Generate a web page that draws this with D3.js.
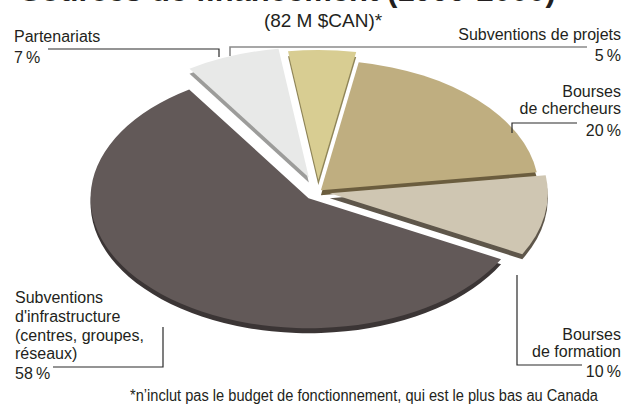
<!doctype html><html><head><meta charset="utf-8"></head><body style="margin:0;background:#fff"><script src='https://d3js.org/d3.v7.min.js'></script>

<style>
	svg text {
		fill: #231f20;
		font-family: "Liberation Sans", Arial, sans-serif;
		font-size: 16px;
	}
	svg .title {
		font-weight: bold;
		font-size: 31px;
	}
	svg .subtitle {
		font-size: 19px;
	}
	svg .lead {
		fill: none;
		stroke: #2a2a2a;
		stroke-width: 1.2;
	}
</style>

<script>
  // slices, clockwise from the top
  var categories = ["Bourses de chercheurs", "Bourses de formation", "Subventions d'infrastructure", "Partenariats", "Subventions de projets"];
  var shares = [20, 10, 58, 7, 5];
  var pctLabels = ["20\u2009%", "10\u2009%", "58\u2009%", "7\u2009%", "5\u2009%"];

  var topColors = ["#bfae80", "#cfc6b2", "#625958", "#e8e9e8", "#d8cd92"];
  var rimColors = ["#6b5d3e", "#5e564a", "#3b3535", "#9c9c9a", "#8f8558"];
  var explode = [4, 12, 14, 26, 20];

  var width = 631, height = 404;
  var cx = 318, cy = 192, rx = 218, ry = 130, depth = 5;
  var k = ry / rx;

  var svg = d3.select("body").append("svg")
    .attr("width", width)
    .attr("height", height)
    .style("display", "block");

  // title (cut at the top edge, as in the original)
  svg.append("text").attr("class", "title")
    .attr("x", 20).attr("y", 1)
    .text("Sources de financement (1999-2000)");

  svg.append("text").attr("class", "subtitle")
    .attr("x", 323).attr("y", 27)
    .attr("text-anchor", "middle")
    .text("(82 M $CAN)*");

  var data = categories.map(function(c, i) {
    return {name: c, v: shares[i], i: i};
  });

  var a0 = 10 * Math.PI / 180;
  var pie = d3.pie().sort(null).value(function(d) { return d.v; })
    .startAngle(a0).endAngle(a0 + 2 * Math.PI);
  var arcs = pie(data);

  var arc = d3.arc().innerRadius(0).outerRadius(rx);

  var chart = svg.append("g").attr("transform", "translate(" + cx + "," + cy + ")");

  function offset(d) {
    var m = (d.startAngle + d.endAngle) / 2;
    var e = explode[d.data.i];
    return [Math.sin(m) * e, -Math.cos(m) * e * k];
  }

  // side / rim first
  chart.selectAll("g.rim")
    .data(arcs)
    .enter()
    .append("g")
    .attr("class", "rim")
    .attr("transform", function(d) {
      var o = offset(d);
      return "translate(" + o[0] + "," + (o[1] + depth) + ") scale(1," + k + ")";
    })
    .append("path")
    .attr("d", arc)
    .attr("fill", function(d) { return rimColors[d.data.i]; });

  chart.selectAll("g.face")
    .data(arcs)
    .enter()
    .append("g")
    .attr("class", "face")
    .attr("transform", function(d) {
      var o = offset(d);
      return "translate(" + o[0] + "," + o[1] + ") scale(1," + k + ")";
    })
    .append("path")
    .attr("d", arc)
    .attr("fill", function(d) { return topColors[d.data.i]; });

  // labels: lines of text per slice
  var labels = [
    {lines: ["Bourses", "de chercheurs"], x: 621, y: [97, 114], py: 136, anchor: "end"},
    {lines: ["Bourses", "de formation"], x: 621, y: [340, 357], py: 377, anchor: "end"},
    {lines: ["Subventions", "d'infrastructure", "(centres, groupes,", "réseaux)"], x: 15, y: [303, 322, 341, 359], py: 379, anchor: "start"},
    {lines: ["Partenariats"], x: 14, y: [42], py: 63, anchor: "start"},
    {lines: ["Subventions de projets"], x: 621, y: [40], py: 61, anchor: "end"}
  ];

  labels.forEach(function(l, i) {
    l.lines.forEach(function(t, j) {
      svg.append("text")
        .attr("x", l.x).attr("y", l.y[j])
        .attr("text-anchor", l.anchor)
        .text(t);
    });
    svg.append("text")
      .attr("x", l.x).attr("y", l.py)
      .attr("text-anchor", l.anchor)
      .text(pctLabels[i]);
  });

  // leader lines
  var leads = [
    "M512,133V123H577",
    "M517,275V365H582",
    "M163,327V367H53",
    "M48,49H219V57"
  ];
  svg.selectAll("path.lead")
    .data(leads)
    .enter()
    .append("path")
    .attr("class", "lead")
    .attr("d", function(d) { return d; });

  svg.append("path")
    .attr("class", "lead")
    .attr("d", "M230,56V47H587")
    .style("stroke", "#8a8a8a")
    .style("stroke-width", 1.6);

  svg.append("text")
    .attr("x", 130).attr("y", 401)
    .attr("textLength", 468)
    .attr("lengthAdjust", "spacingAndGlyphs")
    .text("*n\u2019inclut pas le budget de fonctionnement, qui est le plus bas au Canada");
</script></body></html>
